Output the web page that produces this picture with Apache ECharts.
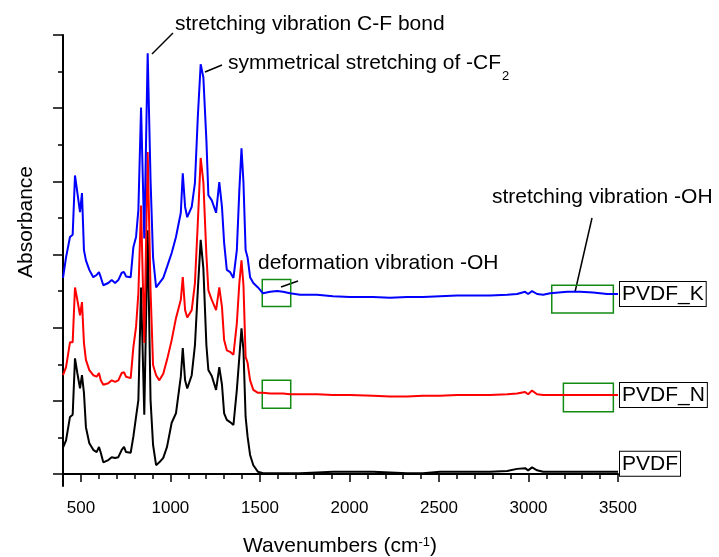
<!DOCTYPE html>
<html>
<head>
<meta charset="utf-8">
<script src="https://cdn.jsdelivr.net/npm/echarts@6/dist/echarts.min.js"></script>
<style>
  html, body { margin: 0; padding: 0; background: #fff; }
  #chart { width: 719px; height: 557px; }
</style>
</head>
<body>
<div id="chart"></div>
<script>
// wavenumbers (cm-1)
const wavenumbers = [
  400, 417, 439, 454, 467, 480, 495, 506, 517, 528,
  547, 569, 588, 601, 611, 625, 653, 672, 691, 709,
  728, 741, 752, 778, 793, 808, 821, 836, 854, 873,
  889, 903, 920, 938, 960, 981, 1007, 1031, 1058, 1069,
  1082, 1094, 1119, 1137, 1153, 1169, 1184, 1201, 1212, 1231,
  1255, 1273, 1288, 1300, 1315, 1333, 1352, 1371, 1385, 1397,
  1408, 1420, 1431, 1445, 1463, 1489, 1517, 1557, 1596, 1629,
  1668, 1724, 1819, 1908, 2003, 2132, 2227, 2322, 2411, 2506,
  2601, 2691, 2786, 2881, 2936, 2981, 2998, 3020, 3048, 3082,
  3121, 3216, 3288, 3361, 3439, 3500
];
// absorbance (offset curves)
const pvdf = [
  0.36, 0.46, 0.78, 0.81, 1.58, 1.38, 1.17, 1.35, 1.11, 0.64,
  0.42, 0.33, 0.30, 0.37, 0.29, 0.16, 0.19, 0.23, 0.22, 0.23,
  0.33, 0.37, 0.30, 0.29, 0.51, 0.78, 1.01, 2.55, 0.81, 3.33,
  1.01, 0.40, 0.12, 0.16, 0.22, 0.37, 0.70, 0.83, 1.33, 1.72,
  1.28, 1.17, 1.35, 1.76, 2.51, 3.20, 2.81, 1.76, 1.42, 1.34,
  1.15, 1.46, 1.22, 0.83, 0.74, 0.71, 0.67, 1.15, 1.60, 1.99,
  1.69, 0.78, 0.51, 0.26, 0.12, 0.03, 0.01, 0.01, 0.01, 0.01,
  0.01, 0.01, 0.02, 0.03, 0.03, 0.03, 0.02, 0.01, 0.01, 0.03,
  0.03, 0.03, 0.03, 0.04, 0.07, 0.08, 0.05, 0.09, 0.05, 0.03,
  0.03, 0.03, 0.03, 0.03, 0.03, 0.03
];
const pvdfN = [
  1.35, 1.46, 1.80, 1.80, 2.55, 2.38, 2.17, 2.35, 1.79, 1.56,
  1.42, 1.35, 1.33, 1.38, 1.28, 1.22, 1.24, 1.28, 1.26, 1.28,
  1.38, 1.39, 1.33, 1.31, 1.73, 2.01, 2.47, 3.67, 1.79, 4.40,
  2.51, 1.49, 1.35, 1.28, 1.37, 1.56, 1.83, 2.13, 2.38, 2.69,
  2.24, 2.14, 2.24, 2.61, 3.43, 4.32, 3.99, 2.99, 2.51, 2.38,
  2.24, 2.55, 2.28, 1.83, 1.69, 1.67, 1.63, 2.06, 2.61, 2.92,
  2.58, 1.60, 1.52, 1.28, 1.15, 1.11, 1.11, 1.10, 1.10, 1.10,
  1.09, 1.09, 1.09, 1.08, 1.08, 1.07, 1.06, 1.06, 1.07, 1.07,
  1.08, 1.08, 1.08, 1.09, 1.10, 1.12, 1.09, 1.14, 1.09, 1.08,
  1.08, 1.08, 1.08, 1.08, 1.08, 1.08
];
const pvdfK = [
  2.68, 2.96, 3.24, 3.27, 4.08, 3.85, 3.58, 3.84, 3.06, 2.92,
  2.79, 2.69, 2.72, 2.76, 2.69, 2.58, 2.61, 2.65, 2.61, 2.65,
  2.75, 2.76, 2.70, 2.69, 3.10, 3.24, 3.61, 5.01, 3.22, 5.75,
  4.02, 2.96, 2.55, 2.61, 2.68, 2.83, 3.02, 3.24, 3.57, 4.11,
  3.65, 3.51, 3.65, 3.98, 4.88, 5.60, 5.42, 4.56, 3.81, 3.74,
  3.57, 3.99, 3.65, 3.16, 2.79, 2.76, 2.68, 3.06, 3.88, 4.45,
  3.98, 3.06, 2.96, 2.69, 2.61, 2.55, 2.47, 2.49, 2.50, 2.49,
  2.47, 2.45, 2.45, 2.43, 2.42, 2.42, 2.41, 2.42, 2.42, 2.43,
  2.44, 2.44, 2.44, 2.45, 2.46, 2.49, 2.46, 2.50, 2.46, 2.45,
  2.47, 2.49, 2.49, 2.48, 2.46, 2.46
];

// tick values
const xMajorTicks = [500, 1000, 1500, 2000, 2500, 3000, 3500];
const xMinorTicks = [400, 600, 700, 800, 900, 1100, 1200, 1300, 1400, 1600, 1700, 1800, 1900,
  2100, 2200, 2300, 2400, 2600, 2700, 2800, 2900, 3100, 3200, 3300, 3400];
const yMajorTicks = [0, 1, 2, 3, 4, 5, 6];
const yMinorTicks = [0.5, 1.5, 2.5, 3.5, 4.5, 5.5];

// green highlight boxes [x1, y1, x2, y2]
const boxesK = [[1513, 2.66, 1672, 2.29], [3130, 2.58, 3474, 2.20]];
const boxesN = [[1513, 1.28, 1672, 0.90], [3195, 1.24, 3474, 0.85]];

const FONT = "'Liberation Sans', Arial, sans-serif";

function pairs(ys) {
  return wavenumbers.map((x, i) => [x, ys[i]]);
}

function boxes(list) {
  return {
    silent: true,
    itemStyle: { color: "rgba(0,0,0,0)", borderColor: "#138a13", borderWidth: 1.5 },
    label: { show: false },
    data: list.map((b) => [{ coord: [b[0], b[1]] }, { coord: [b[2], b[3]] }]),
  };
}

function endLabel(dy) {
  return {
    show: true,
    formatter: "{a}",
    color: "#000",
    fontFamily: FONT,
    fontSize: 21,
    backgroundColor: "#fff",
    borderColor: "#000",
    borderWidth: 1,
    padding: [2, 2, 1, 2],
    distance: 2,
    offset: [0, dy],
  };
}

let chartDom = document.getElementById("chart");
let myChart = echarts.init(chartDom);

let options = {
  animation: false,
  grid: { left: 63, right: 101, top: 35, bottom: 71 },
  xAxis: [
    {
      type: "value",
      min: 400,
      max: 3500,
      axisLine: { lineStyle: { color: "#000", width: 2 } },
      axisTick: { customValues: xMajorTicks, length: 8, lineStyle: { color: "#000", width: 1.5 } },
      axisLabel: {
        customValues: xMajorTicks,
        formatter: (v) => String(v),
        color: "#000",
        fontFamily: FONT,
        fontSize: 17,
        margin: 14,
      },
      splitLine: { show: false },
    },
    {
      type: "value",
      min: 400,
      max: 3500,
      position: "bottom",
      axisLine: { show: false },
      axisTick: { customValues: xMinorTicks, length: 5, lineStyle: { color: "#000", width: 1.5 } },
      axisLabel: { show: false },
      splitLine: { show: false },
    },
  ],
  yAxis: [
    {
      type: "value",
      min: -0.164,
      max: 6,
      axisLine: { show: true, lineStyle: { color: "#000", width: 2 } },
      axisTick: { show: true, customValues: yMajorTicks, length: 10, lineStyle: { color: "#000", width: 1.5 } },
      axisLabel: { show: false },
      splitLine: { show: false },
    },
    {
      type: "value",
      min: -0.164,
      max: 6,
      position: "left",
      axisLine: { show: false },
      axisTick: { show: true, customValues: yMinorTicks, length: 5, lineStyle: { color: "#000", width: 1.5 } },
      axisLabel: { show: false },
      splitLine: { show: false },
    },
  ],
  series: [
    {
      name: "PVDF",
      type: "line",
      showSymbol: false,
      data: pairs(pvdf),
      lineStyle: { color: "#000", width: 2 },
      itemStyle: { color: "#000" },
      endLabel: endLabel(-8),
    },
    {
      name: "PVDF_N",
      type: "line",
      showSymbol: false,
      data: pairs(pvdfN),
      lineStyle: { color: "#ff0000", width: 2 },
      itemStyle: { color: "#ff0000" },
      endLabel: endLabel(0),
      markArea: boxes(boxesN),
    },
    {
      name: "PVDF_K",
      type: "line",
      showSymbol: false,
      data: pairs(pvdfK),
      lineStyle: { color: "#0000ff", width: 2 },
      itemStyle: { color: "#0000ff" },
      endLabel: endLabel(0),
      markArea: boxes(boxesK),
    },
  ],
  graphic: [
    // axis titles
    {
      type: "text",
      x: 26,
      y: 222,
      rotation: Math.PI / 2,
      style: { text: "Absorbance", font: "21px " + FONT, fill: "#000", textAlign: "center", textVerticalAlign: "middle" },
    },
    {
      type: "text",
      x: 340,
      y: 546,
      style: {
        text: "{a|Wavenumbers (cm}{s|-1}{a|)}",
        textAlign: "center",
        textVerticalAlign: "middle",
        rich: {
          a: { fontSize: 21, fontFamily: FONT, fill: "#000" },
          s: { fontSize: 13, fontFamily: FONT, fill: "#000", verticalAlign: "top" },
        },
      },
    },
    // annotations
    {
      type: "text",
      x: 175,
      y: 24,
      style: { text: "stretching vibration C-F bond", font: "21px " + FONT, fill: "#000", textVerticalAlign: "middle" },
    },
    { type: "line", shape: { x1: 152, y1: 54, x2: 173, y2: 33 }, style: { stroke: "#000", lineWidth: 1.5 } },
    {
      type: "text",
      x: 228,
      y: 63,
      style: { text: "symmetrical stretching of -CF", font: "21px " + FONT, fill: "#000", textVerticalAlign: "middle" },
    },
    {
      type: "text",
      x: 502,
      y: 76,
      style: { text: "2", font: "13px " + FONT, fill: "#000", textVerticalAlign: "middle" },
    },
    { type: "line", shape: { x1: 205, y1: 72, x2: 222, y2: 65 }, style: { stroke: "#000", lineWidth: 1.5 } },
    {
      type: "text",
      x: 258,
      y: 263,
      style: { text: "deformation vibration -OH", font: "21px " + FONT, fill: "#000", textVerticalAlign: "middle" },
    },
    { type: "line", shape: { x1: 281, y1: 287, x2: 298, y2: 281 }, style: { stroke: "#000", lineWidth: 1.5 } },
    {
      type: "text",
      x: 492,
      y: 197,
      style: { text: "stretching vibration -OH", font: "21px " + FONT, fill: "#000", textVerticalAlign: "middle" },
    },
    { type: "line", shape: { x1: 575, y1: 292, x2: 592, y2: 218 }, style: { stroke: "#000", lineWidth: 1.5 } },
  ],
};
options && myChart.setOption(options);
window.onresize = myChart.resize;
</script>
</body>
</html>
